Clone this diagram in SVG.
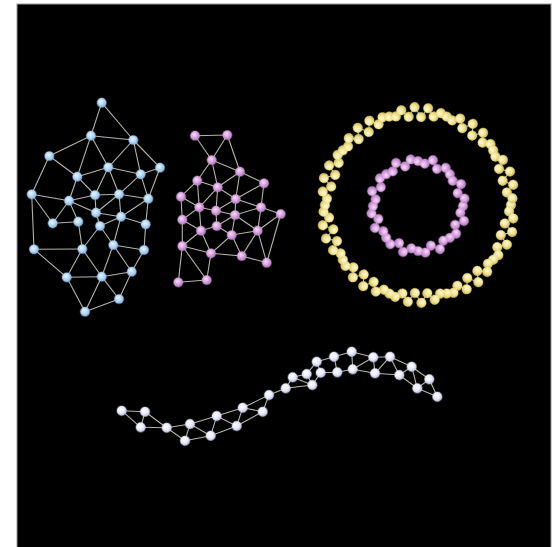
<svg xmlns="http://www.w3.org/2000/svg" xmlns:xlink="http://www.w3.org/1999/xlink" width="560" height="547" viewBox="0 0 560 547">
<defs>
<style>
.e{stroke:#d6d4c4;stroke-width:1.1;stroke-opacity:0.85;fill:none}
.b{fill:url(#gb);stroke:#9cc6f0;stroke-opacity:0.35;stroke-width:1.5}
.p{fill:url(#gp);stroke:#d79ae0;stroke-opacity:0.35;stroke-width:1.5}
.y{fill:url(#gy);stroke:#efe08c;stroke-opacity:0.35;stroke-width:1}
.w{fill:url(#gw);stroke:#e6e6ff;stroke-opacity:0.35;stroke-width:1.5}
</style>
<radialGradient id="gb" cx="0.42" cy="0.38" r="0.6"><stop offset="0" stop-color="#eaf5ff"/><stop offset="0.6" stop-color="#b3d6f7"/><stop offset="1" stop-color="#86b6e6"/></radialGradient>
<radialGradient id="gp" cx="0.42" cy="0.38" r="0.6"><stop offset="0" stop-color="#f6dcf8"/><stop offset="0.6" stop-color="#d7a2de"/><stop offset="1" stop-color="#b27cc2"/></radialGradient>
<radialGradient id="gy" cx="0.42" cy="0.38" r="0.6"><stop offset="0" stop-color="#fffbd8"/><stop offset="0.6" stop-color="#f1e28e"/><stop offset="1" stop-color="#cfbd62"/></radialGradient>
<radialGradient id="gw" cx="0.42" cy="0.38" r="0.6"><stop offset="0" stop-color="#ffffff"/><stop offset="0.6" stop-color="#eaeaff"/><stop offset="1" stop-color="#bfc2e6"/></radialGradient>
<g id="ySegE" class="e">
<line transform="rotate(0)" x1="93" y1="0" x2="91.08" y2="6.37"/>
<line transform="rotate(4)" x1="91.3" y1="0" x2="95.97" y2="6.71"/>
<line transform="rotate(8)" x1="96.2" y1="0" x2="88.48" y2="6.19"/>
<line transform="rotate(12)" x1="88.7" y1="0" x2="97.66" y2="6.83"/>
<line transform="rotate(16)" x1="97.9" y1="0" x2="87.89" y2="6.15"/>
<line transform="rotate(20)" x1="88.1" y1="0" x2="97.06" y2="6.79"/>
<line transform="rotate(24)" x1="97.3" y1="0" x2="89.58" y2="6.26"/>
<line transform="rotate(28)" x1="89.8" y1="0" x2="94.47" y2="6.61"/>
<line transform="rotate(32)" x1="94.7" y1="0" x2="92.77" y2="6.49"/>
<line transform="rotate(36)" x1="93" y1="0" x2="91.08" y2="6.37"/>
<line transform="rotate(40)" x1="91.3" y1="0" x2="95.97" y2="6.71"/>
<line transform="rotate(44)" x1="96.2" y1="0" x2="88.48" y2="6.19"/>
<line transform="rotate(48)" x1="88.7" y1="0" x2="97.66" y2="6.83"/>
<line transform="rotate(52)" x1="97.9" y1="0" x2="87.89" y2="6.15"/>
<line transform="rotate(56)" x1="88.1" y1="0" x2="97.06" y2="6.79"/>
<line transform="rotate(60)" x1="97.3" y1="0" x2="89.58" y2="6.26"/>
<line transform="rotate(64)" x1="89.8" y1="0" x2="94.47" y2="6.61"/>
<line transform="rotate(68)" x1="94.7" y1="0" x2="92.77" y2="6.49"/>
</g>
<g id="ySegN" class="y">
<circle transform="rotate(0)" cx="93" cy="0" r="4.8"/>
<circle transform="rotate(4)" cx="91.3" cy="0" r="4.8"/>
<circle transform="rotate(8)" cx="96.2" cy="0" r="4.8"/>
<circle transform="rotate(12)" cx="88.7" cy="0" r="4.8"/>
<circle transform="rotate(16)" cx="97.9" cy="0" r="4.8"/>
<circle transform="rotate(20)" cx="88.1" cy="0" r="4.8"/>
<circle transform="rotate(24)" cx="97.3" cy="0" r="4.8"/>
<circle transform="rotate(28)" cx="89.8" cy="0" r="4.8"/>
<circle transform="rotate(32)" cx="94.7" cy="0" r="4.8"/>
<circle transform="rotate(36)" cx="93" cy="0" r="4.8"/>
<circle transform="rotate(40)" cx="91.3" cy="0" r="4.8"/>
<circle transform="rotate(44)" cx="96.2" cy="0" r="4.8"/>
<circle transform="rotate(48)" cx="88.7" cy="0" r="4.8"/>
<circle transform="rotate(52)" cx="97.9" cy="0" r="4.8"/>
<circle transform="rotate(56)" cx="88.1" cy="0" r="4.8"/>
<circle transform="rotate(60)" cx="97.3" cy="0" r="4.8"/>
<circle transform="rotate(64)" cx="89.8" cy="0" r="4.8"/>
<circle transform="rotate(68)" cx="94.7" cy="0" r="4.8"/>
</g>
<g id="pSegE" class="e">
<line transform="rotate(0)" x1="45" y1="0" x2="42.37" y2="6.71"/>
<line transform="rotate(9)" x1="42.9" y1="0" x2="47.71" y2="7.56"/>
<line transform="rotate(18)" x1="48.3" y1="0" x2="41.19" y2="6.52"/>
<line transform="rotate(27)" x1="41.7" y1="0" x2="46.52" y2="7.37"/>
<line transform="rotate(36)" x1="47.1" y1="0" x2="44.45" y2="7.04"/>
<line transform="rotate(45)" x1="45" y1="0" x2="42.37" y2="6.71"/>
<line transform="rotate(54)" x1="42.9" y1="0" x2="47.71" y2="7.56"/>
<line transform="rotate(63)" x1="48.3" y1="0" x2="41.19" y2="6.52"/>
<line transform="rotate(72)" x1="41.7" y1="0" x2="46.52" y2="7.37"/>
<line transform="rotate(81)" x1="47.1" y1="0" x2="44.45" y2="7.04"/>
</g>
<g id="pSegN" class="p">
<circle transform="rotate(0)" cx="45" cy="0" r="4.6"/>
<circle transform="rotate(9)" cx="42.9" cy="0" r="4.6"/>
<circle transform="rotate(18)" cx="48.3" cy="0" r="4.6"/>
<circle transform="rotate(27)" cx="41.7" cy="0" r="4.6"/>
<circle transform="rotate(36)" cx="47.1" cy="0" r="4.6"/>
<circle transform="rotate(45)" cx="45" cy="0" r="4.6"/>
<circle transform="rotate(54)" cx="42.9" cy="0" r="4.6"/>
<circle transform="rotate(63)" cx="48.3" cy="0" r="4.6"/>
<circle transform="rotate(72)" cx="41.7" cy="0" r="4.6"/>
<circle transform="rotate(81)" cx="47.1" cy="0" r="4.6"/>
</g>
</defs>
<rect x="0" y="0" width="560" height="547" fill="#ffffff"/>
<rect x="17" y="4" width="534" height="544" fill="#000000" stroke="#9a9a9a" stroke-width="1"/>
<g id="connectors" class="e">
<g id="blue-edges">
<line x1="101.7" y1="102.7" x2="91" y2="135.7"/>
<line x1="101.7" y1="102.7" x2="133.3" y2="140"/>
<line x1="91" y1="135.7" x2="133.3" y2="140"/>
<line x1="91" y1="135.7" x2="49.3" y2="156"/>
<line x1="91" y1="135.7" x2="108.3" y2="167.3"/>
<line x1="91" y1="135.7" x2="77.3" y2="176.7"/>
<line x1="133.3" y1="140" x2="108.3" y2="167.3"/>
<line x1="133.3" y1="140" x2="140.7" y2="174.3"/>
<line x1="133.3" y1="140" x2="160" y2="167.7"/>
<line x1="49.3" y1="156" x2="77.3" y2="176.7"/>
<line x1="49.3" y1="156" x2="31.7" y2="194.3"/>
<line x1="108.3" y1="167.3" x2="77.3" y2="176.7"/>
<line x1="108.3" y1="167.3" x2="140.7" y2="174.3"/>
<line x1="108.3" y1="167.3" x2="95" y2="195"/>
<line x1="108.3" y1="167.3" x2="119" y2="194.3"/>
<line x1="160" y1="167.7" x2="140.7" y2="174.3"/>
<line x1="160" y1="167.7" x2="148.3" y2="198.7"/>
<line x1="77.3" y1="176.7" x2="69" y2="200.7"/>
<line x1="77.3" y1="176.7" x2="95" y2="195"/>
<line x1="140.7" y1="174.3" x2="119" y2="194.3"/>
<line x1="140.7" y1="174.3" x2="148.3" y2="198.7"/>
<line x1="31.7" y1="194.3" x2="69" y2="200.7"/>
<line x1="31.7" y1="194.3" x2="52.7" y2="223.3"/>
<line x1="31.7" y1="194.3" x2="34" y2="249.3"/>
<line x1="95" y1="195" x2="119" y2="194.3"/>
<line x1="95" y1="195" x2="69" y2="200.7"/>
<line x1="95" y1="195" x2="96" y2="212.7"/>
<line x1="119" y1="194.3" x2="148.3" y2="198.7"/>
<line x1="119" y1="194.3" x2="96" y2="212.7"/>
<line x1="119" y1="194.3" x2="121" y2="216.7"/>
<line x1="148.3" y1="198.7" x2="121" y2="216.7"/>
<line x1="148.3" y1="198.7" x2="145.7" y2="224.3"/>
<line x1="69" y1="200.7" x2="52.7" y2="223.3"/>
<line x1="69" y1="200.7" x2="78.3" y2="221.7"/>
<line x1="69" y1="200.7" x2="96" y2="212.7"/>
<line x1="96" y1="212.7" x2="121" y2="216.7"/>
<line x1="96" y1="212.7" x2="100" y2="226"/>
<line x1="52.7" y1="223.3" x2="78.3" y2="221.7"/>
<line x1="78.3" y1="221.7" x2="82.3" y2="249"/>
<line x1="121" y1="216.7" x2="100" y2="226"/>
<line x1="121" y1="216.7" x2="145.7" y2="224.3"/>
<line x1="121" y1="216.7" x2="113.3" y2="245"/>
<line x1="100" y1="226" x2="82.3" y2="249"/>
<line x1="100" y1="226" x2="113.3" y2="245"/>
<line x1="145.7" y1="224.3" x2="144" y2="250"/>
<line x1="34" y1="249.3" x2="82.3" y2="249"/>
<line x1="34" y1="249.3" x2="66.7" y2="277.3"/>
<line x1="82.3" y1="249" x2="66.7" y2="277.3"/>
<line x1="82.3" y1="249" x2="101.7" y2="276.7"/>
<line x1="113.3" y1="245" x2="101.7" y2="276.7"/>
<line x1="113.3" y1="245" x2="144" y2="250"/>
<line x1="113.3" y1="245" x2="131.7" y2="271.7"/>
<line x1="144" y1="250" x2="131.7" y2="271.7"/>
<line x1="66.7" y1="277.3" x2="101.7" y2="276.7"/>
<line x1="66.7" y1="277.3" x2="85" y2="311.7"/>
<line x1="101.7" y1="276.7" x2="131.7" y2="271.7"/>
<line x1="101.7" y1="276.7" x2="119" y2="299"/>
<line x1="101.7" y1="276.7" x2="85" y2="311.7"/>
<line x1="131.7" y1="271.7" x2="119" y2="299"/>
<line x1="119" y1="299" x2="85" y2="311.7"/>
</g>
<g id="pink-edges">
<line x1="195" y1="135.7" x2="227.3" y2="135"/>
<line x1="195" y1="135.7" x2="211.7" y2="160"/>
<line x1="227.3" y1="135" x2="211.7" y2="160"/>
<line x1="227.3" y1="135" x2="240" y2="171.7"/>
<line x1="211.7" y1="160" x2="240" y2="171.7"/>
<line x1="211.7" y1="160" x2="197.3" y2="180.7"/>
<line x1="211.7" y1="160" x2="217.7" y2="187.3"/>
<line x1="240" y1="171.7" x2="264" y2="183.3"/>
<line x1="240" y1="171.7" x2="217.7" y2="187.3"/>
<line x1="240" y1="171.7" x2="235.7" y2="199"/>
<line x1="197.3" y1="180.7" x2="217.7" y2="187.3"/>
<line x1="197.3" y1="180.7" x2="181" y2="196.7"/>
<line x1="197.3" y1="180.7" x2="199.3" y2="207.3"/>
<line x1="264" y1="183.3" x2="235.7" y2="199"/>
<line x1="264" y1="183.3" x2="261" y2="207.3"/>
<line x1="217.7" y1="187.3" x2="235.7" y2="199"/>
<line x1="217.7" y1="187.3" x2="199.3" y2="207.3"/>
<line x1="217.7" y1="187.3" x2="216" y2="210.7"/>
<line x1="181" y1="196.7" x2="199.3" y2="207.3"/>
<line x1="181" y1="196.7" x2="182.3" y2="219.7"/>
<line x1="235.7" y1="199" x2="216" y2="210.7"/>
<line x1="235.7" y1="199" x2="261" y2="207.3"/>
<line x1="235.7" y1="199" x2="235" y2="215"/>
<line x1="199.3" y1="207.3" x2="216" y2="210.7"/>
<line x1="199.3" y1="207.3" x2="182.3" y2="219.7"/>
<line x1="199.3" y1="207.3" x2="201" y2="230.7"/>
<line x1="216" y1="210.7" x2="235" y2="215"/>
<line x1="216" y1="210.7" x2="216.7" y2="226"/>
<line x1="261" y1="207.3" x2="280.7" y2="214"/>
<line x1="261" y1="207.3" x2="235" y2="215"/>
<line x1="261" y1="207.3" x2="257.7" y2="230.7"/>
<line x1="280.7" y1="214" x2="257.7" y2="230.7"/>
<line x1="280.7" y1="214" x2="266.7" y2="262.7"/>
<line x1="182.3" y1="219.7" x2="201" y2="230.7"/>
<line x1="182.3" y1="219.7" x2="182.3" y2="246"/>
<line x1="235" y1="215" x2="216.7" y2="226"/>
<line x1="235" y1="215" x2="257.7" y2="230.7"/>
<line x1="235" y1="215" x2="231.7" y2="235"/>
<line x1="216.7" y1="226" x2="201" y2="230.7"/>
<line x1="216.7" y1="226" x2="231.7" y2="235"/>
<line x1="201" y1="230.7" x2="182.3" y2="246"/>
<line x1="201" y1="230.7" x2="211" y2="253.3"/>
<line x1="257.7" y1="230.7" x2="231.7" y2="235"/>
<line x1="257.7" y1="230.7" x2="241.7" y2="256"/>
<line x1="257.7" y1="230.7" x2="266.7" y2="262.7"/>
<line x1="231.7" y1="235" x2="211" y2="253.3"/>
<line x1="231.7" y1="235" x2="241.7" y2="256"/>
<line x1="182.3" y1="246" x2="211" y2="253.3"/>
<line x1="182.3" y1="246" x2="178.3" y2="282.3"/>
<line x1="182.3" y1="246" x2="206.7" y2="280"/>
<line x1="211" y1="253.3" x2="241.7" y2="256"/>
<line x1="211" y1="253.3" x2="206.7" y2="280"/>
<line x1="241.7" y1="256" x2="266.7" y2="262.7"/>
<line x1="178.3" y1="282.3" x2="206.7" y2="280"/>
</g>
<g id="outer-ring-edges" transform="translate(418 205)">
<use href="#ySegE"/>
<use href="#ySegE" transform="rotate(72)"/>
<use href="#ySegE" transform="rotate(144)"/>
<use href="#ySegE" transform="rotate(216)"/>
<use href="#ySegE" transform="rotate(288)"/>
</g>
<g id="inner-ring-edges" transform="translate(418 206)">
<use href="#pSegE"/>
<use href="#pSegE" transform="rotate(90)"/>
<use href="#pSegE" transform="rotate(180)"/>
<use href="#pSegE" transform="rotate(270)"/>
</g>
<g id="chain-edges">
<line x1="121.7" y1="410.7" x2="145" y2="411.7"/>
<line x1="121.7" y1="410.7" x2="140.7" y2="427.3"/>
<line x1="145" y1="411.7" x2="140.7" y2="427.3"/>
<line x1="145" y1="411.7" x2="166.7" y2="427.7"/>
<line x1="140.7" y1="427.3" x2="166.7" y2="427.7"/>
<line x1="166.7" y1="427.7" x2="190" y2="424"/>
<line x1="166.7" y1="427.7" x2="185" y2="440.7"/>
<line x1="190" y1="424" x2="185" y2="440.7"/>
<line x1="190" y1="424" x2="216.7" y2="416"/>
<line x1="190" y1="424" x2="210.7" y2="435.7"/>
<line x1="185" y1="440.7" x2="210.7" y2="435.7"/>
<line x1="216.7" y1="416" x2="210.7" y2="435.7"/>
<line x1="216.7" y1="416" x2="242.7" y2="407.7"/>
<line x1="216.7" y1="416" x2="236.7" y2="426"/>
<line x1="210.7" y1="435.7" x2="236.7" y2="426"/>
<line x1="242.7" y1="407.7" x2="236.7" y2="426"/>
<line x1="242.7" y1="407.7" x2="262.7" y2="411.7"/>
<line x1="242.7" y1="407.7" x2="269" y2="395"/>
<line x1="236.7" y1="426" x2="262.7" y2="411.7"/>
<line x1="262.7" y1="411.7" x2="269" y2="395"/>
<line x1="269" y1="395" x2="285.7" y2="388.3"/>
<line x1="285.7" y1="388.3" x2="292.7" y2="377.3"/>
<line x1="285.7" y1="388.3" x2="312.3" y2="385"/>
<line x1="292.7" y1="377.3" x2="306.7" y2="374"/>
<line x1="292.7" y1="377.3" x2="312.3" y2="385"/>
<line x1="306.7" y1="374" x2="312.3" y2="385"/>
<line x1="306.7" y1="374" x2="316.7" y2="361.7"/>
<line x1="312.3" y1="385" x2="320.7" y2="372.7"/>
<line x1="316.7" y1="361.7" x2="320.7" y2="372.7"/>
<line x1="316.7" y1="361.7" x2="334" y2="356.7"/>
<line x1="320.7" y1="372.7" x2="337.3" y2="372.3"/>
<line x1="334" y1="356.7" x2="337.3" y2="372.3"/>
<line x1="334" y1="356.7" x2="351.7" y2="351.7"/>
<line x1="337.3" y1="372.3" x2="352.7" y2="369.3"/>
<line x1="351.7" y1="351.7" x2="352.7" y2="369.3"/>
<line x1="351.7" y1="351.7" x2="373.3" y2="357.3"/>
<line x1="352.7" y1="369.3" x2="375" y2="373.3"/>
<line x1="352.7" y1="369.3" x2="373.3" y2="357.3"/>
<line x1="373.3" y1="357.3" x2="375" y2="373.3"/>
<line x1="373.3" y1="357.3" x2="390" y2="356.7"/>
<line x1="375" y1="373.3" x2="399.3" y2="375"/>
<line x1="375" y1="373.3" x2="390" y2="356.7"/>
<line x1="390" y1="356.7" x2="399.3" y2="375"/>
<line x1="390" y1="356.7" x2="411.7" y2="366.7"/>
<line x1="399.3" y1="375" x2="411.7" y2="366.7"/>
<line x1="399.3" y1="375" x2="417.3" y2="388.3"/>
<line x1="411.7" y1="366.7" x2="429.3" y2="379.3"/>
<line x1="411.7" y1="366.7" x2="417.3" y2="388.3"/>
<line x1="429.3" y1="379.3" x2="417.3" y2="388.3"/>
<line x1="429.3" y1="379.3" x2="437.3" y2="396.7"/>
<line x1="417.3" y1="388.3" x2="437.3" y2="396.7"/>
</g>
</g>
<g id="blue-cluster" class="b">
<circle cx="101.7" cy="102.7" r="4.6"/><circle cx="91" cy="135.7" r="4.6"/><circle cx="133.3" cy="140" r="4.6"/>
<circle cx="49.3" cy="156" r="4.6"/><circle cx="108.3" cy="167.3" r="4.6"/><circle cx="160" cy="167.7" r="4.6"/>
<circle cx="77.3" cy="176.7" r="4.6"/><circle cx="140.7" cy="174.3" r="4.6"/><circle cx="31.7" cy="194.3" r="4.6"/>
<circle cx="95" cy="195" r="4.6"/><circle cx="119" cy="194.3" r="4.6"/><circle cx="148.3" cy="198.7" r="4.6"/>
<circle cx="69" cy="200.7" r="4.6"/><circle cx="96" cy="212.7" r="4.6"/><circle cx="121" cy="216.7" r="4.6"/>
<circle cx="52.7" cy="223.3" r="4.6"/><circle cx="78.3" cy="221.7" r="4.6"/><circle cx="100" cy="226" r="4.6"/>
<circle cx="145.7" cy="224.3" r="4.6"/><circle cx="34" cy="249.3" r="4.6"/><circle cx="82.3" cy="249" r="4.6"/>
<circle cx="113.3" cy="245" r="4.6"/><circle cx="144" cy="250" r="4.6"/><circle cx="66.7" cy="277.3" r="4.6"/>
<circle cx="101.7" cy="276.7" r="4.6"/><circle cx="131.7" cy="271.7" r="4.6"/><circle cx="119" cy="299" r="4.6"/>
<circle cx="85" cy="311.7" r="4.6"/>
</g>
<g id="pink-cluster" class="p">
<circle cx="195" cy="135.7" r="4.6"/><circle cx="227.3" cy="135" r="4.6"/><circle cx="211.7" cy="160" r="4.6"/>
<circle cx="240" cy="171.7" r="4.6"/><circle cx="197.3" cy="180.7" r="4.6"/><circle cx="264" cy="183.3" r="4.6"/>
<circle cx="217.7" cy="187.3" r="4.6"/><circle cx="181" cy="196.7" r="4.6"/><circle cx="235.7" cy="199" r="4.6"/>
<circle cx="199.3" cy="207.3" r="4.6"/><circle cx="216" cy="210.7" r="4.6"/><circle cx="261" cy="207.3" r="4.6"/>
<circle cx="280.7" cy="214" r="4.6"/><circle cx="182.3" cy="219.7" r="4.6"/><circle cx="235" cy="215" r="4.6"/>
<circle cx="216.7" cy="226" r="4.6"/><circle cx="201" cy="230.7" r="4.6"/><circle cx="257.7" cy="230.7" r="4.6"/>
<circle cx="231.7" cy="235" r="4.6"/><circle cx="182.3" cy="246" r="4.6"/><circle cx="211" cy="253.3" r="4.6"/>
<circle cx="241.7" cy="256" r="4.6"/><circle cx="266.7" cy="262.7" r="4.6"/><circle cx="178.3" cy="282.3" r="4.6"/>
<circle cx="206.7" cy="280" r="4.6"/>
</g>
<g id="outer-ring" transform="translate(418 205)">
<use href="#ySegN"/>
<use href="#ySegN" transform="rotate(72)"/>
<use href="#ySegN" transform="rotate(144)"/>
<use href="#ySegN" transform="rotate(216)"/>
<use href="#ySegN" transform="rotate(288)"/>
</g>
<g id="inner-ring" transform="translate(418 206)">
<use href="#pSegN"/>
<use href="#pSegN" transform="rotate(90)"/>
<use href="#pSegN" transform="rotate(180)"/>
<use href="#pSegN" transform="rotate(270)"/>
</g>
<g id="white-chain" class="w">
<circle cx="121.7" cy="410.7" r="4.7"/><circle cx="145" cy="411.7" r="4.7"/><circle cx="140.7" cy="427.3" r="4.7"/>
<circle cx="166.7" cy="427.7" r="4.7"/><circle cx="190" cy="424" r="4.7"/><circle cx="185" cy="440.7" r="4.7"/>
<circle cx="216.7" cy="416" r="4.7"/><circle cx="210.7" cy="435.7" r="4.7"/><circle cx="242.7" cy="407.7" r="4.7"/>
<circle cx="236.7" cy="426" r="4.7"/><circle cx="262.7" cy="411.7" r="4.7"/><circle cx="269" cy="395" r="4.7"/>
<circle cx="285.7" cy="388.3" r="4.7"/><circle cx="292.7" cy="377.3" r="4.7"/><circle cx="306.7" cy="374" r="4.7"/>
<circle cx="312.3" cy="385" r="4.7"/><circle cx="316.7" cy="361.7" r="4.7"/><circle cx="320.7" cy="372.7" r="4.7"/>
<circle cx="334" cy="356.7" r="4.7"/><circle cx="337.3" cy="372.3" r="4.7"/><circle cx="351.7" cy="351.7" r="4.7"/>
<circle cx="352.7" cy="369.3" r="4.7"/><circle cx="373.3" cy="357.3" r="4.7"/><circle cx="375" cy="373.3" r="4.7"/>
<circle cx="390" cy="356.7" r="4.7"/><circle cx="399.3" cy="375" r="4.7"/><circle cx="411.7" cy="366.7" r="4.7"/>
<circle cx="429.3" cy="379.3" r="4.7"/><circle cx="417.3" cy="388.3" r="4.7"/><circle cx="437.3" cy="396.7" r="4.7"/>
</g>
</svg>
